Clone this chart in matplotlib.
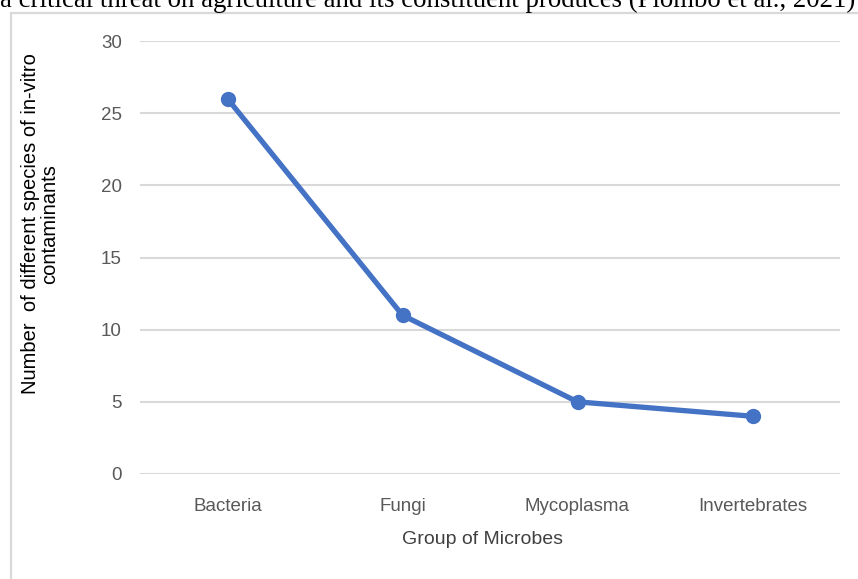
import matplotlib
matplotlib.use("Agg")
import matplotlib.pyplot as plt
from matplotlib.patches import Rectangle

categories = ["Bacteria", "Fungi", "Mycoplasma", "Invertebrates"]
values = [26, 11, 5, 4]
yticks = [0, 5, 10, 15, 20, 25, 30]
header = "a critical threat on agriculture and its constituent produces (Plombo et al., 2021)"

W, H = 858, 579
fig = plt.figure(figsize=(W / 100, H / 100), dpi=100)
fig.patch.set_facecolor("white")

# chart frame
fig.patches.append(Rectangle((11 / W, -0.05), 1.0, 1 - 13 / H + 0.05, transform=fig.transFigure,
                             fill=False, edgecolor="#d9d9d9", linewidth=1.6))
# header text (clipped at top, as in the source page)
fig.text(0.0, 1 - 7 / H, header, family="Liberation Serif", fontsize=19.3, color="black",
         va="baseline", ha="left")

ax = fig.add_axes([140 / W, 1 - 474 / H, 700 / W, (474 - 41) / H])
x = list(range(len(categories)))
ax.plot(x, values, color="#4472C4", linewidth=3.8, marker="o", markersize=10,
        solid_capstyle="round", zorder=3)
ax.set_xlim(-0.5, len(categories) - 0.5)
ax.set_ylim(0, 30)
ax.set_yticks(yticks)
ax.set_xticks(x)
ax.set_xticklabels(categories)
ax.grid(axis="y", color="#d9d9d9", linewidth=1.5)
ax.set_axisbelow(True)
for s in ax.spines.values():
    s.set_visible(False)
ax.tick_params(axis="both", length=0, labelcolor="#595959")
ax.tick_params(axis="y", pad=13)
ax.tick_params(axis="x", pad=17)
for lab in ax.get_xticklabels() + ax.get_yticklabels():
    lab.set_family("Liberation Sans")
    lab.set_fontsize(13.5)

ax.set_xlabel("Group of Microbes", family="Liberation Sans", fontsize=14, color="#404040")
ax.xaxis.set_label_coords(0.49, -(540 - 474) / (474 - 41), transform=ax.transAxes)
ax.xaxis.label.set_va("center")
fig.text(40 / W, 1 - 224 / H, "Number  of different species of in-vitro\ncontaminants",
         rotation=90, ha="center", va="center", multialignment="center",
         family="Liberation Sans", fontsize=14.5, color="black", linespacing=1.0)

fig.savefig("out.png", dpi=100, facecolor="white")
